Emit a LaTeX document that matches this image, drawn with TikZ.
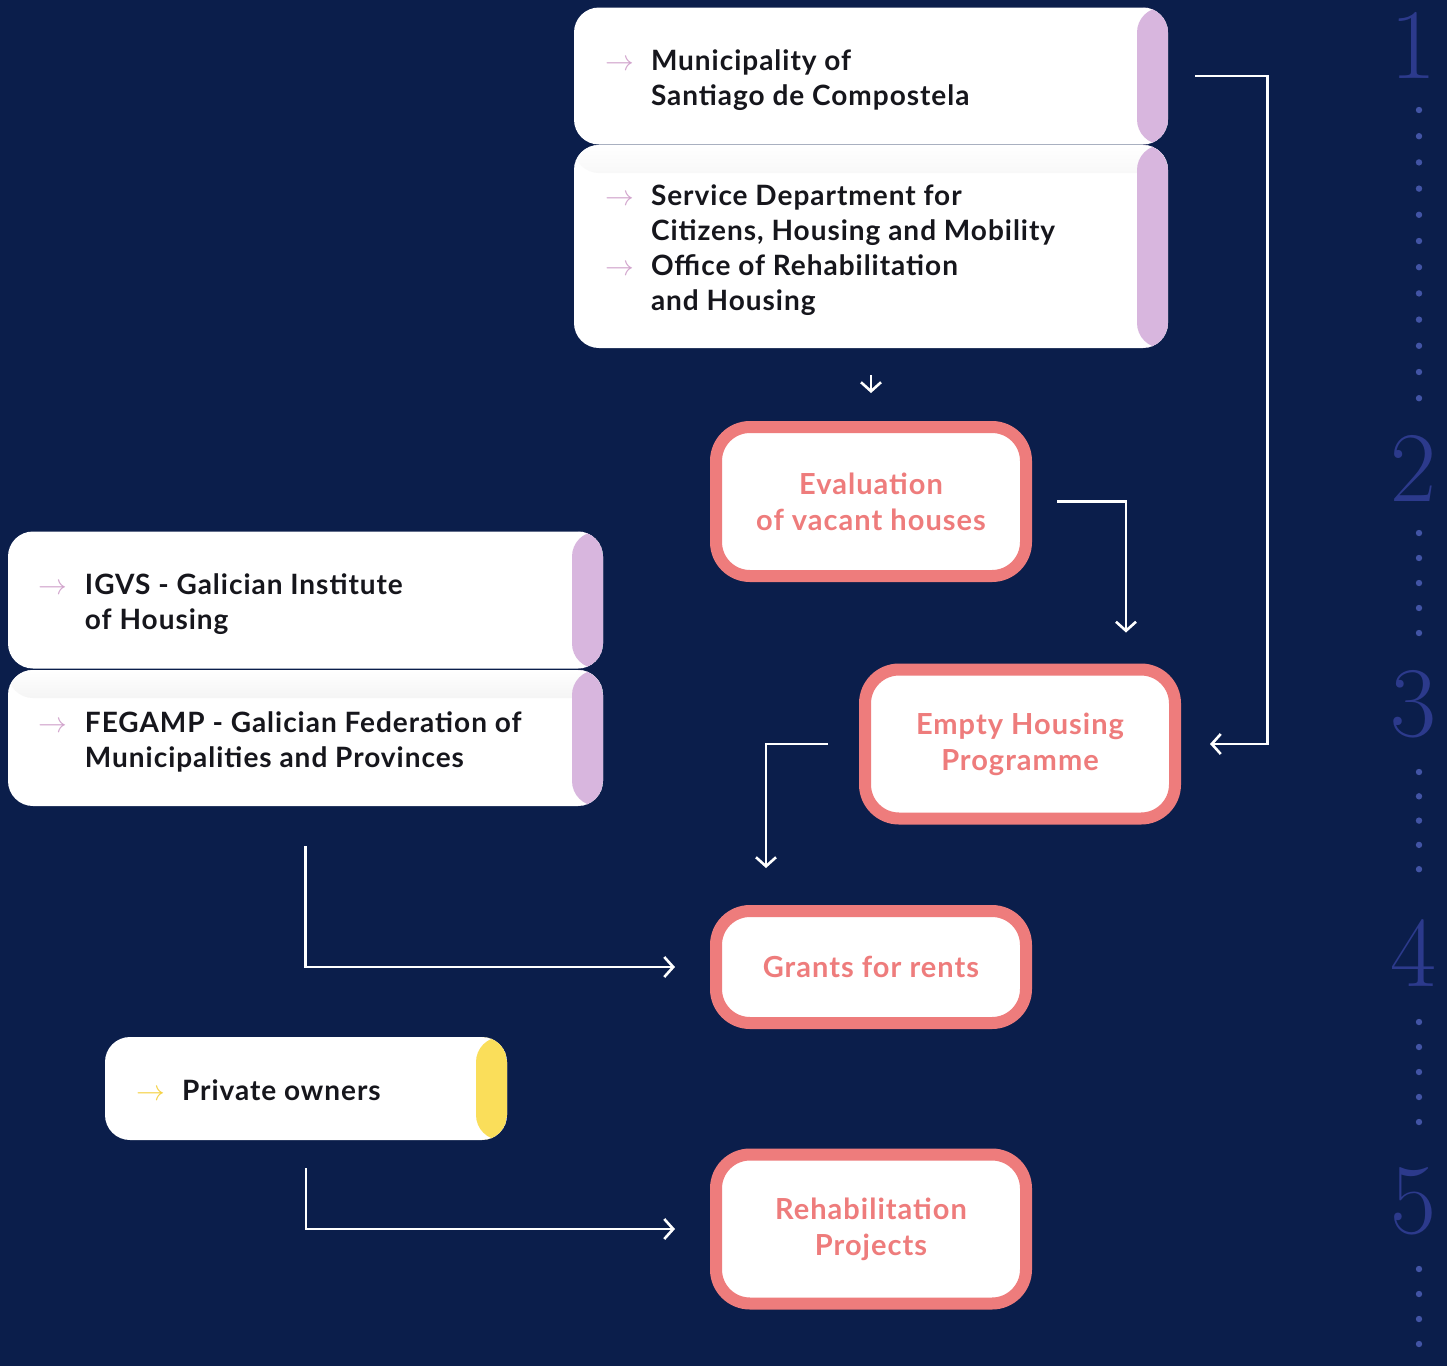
\documentclass[tikz,border=0pt]{standalone}
\usepackage{fontspec}
\newfontfamily\cardfont{Lato}[LetterSpace=3.5]
\usetikzlibrary{arrows.meta,calc}
\definecolor{bg}{RGB}{11,30,75}
\definecolor{lilac}{RGB}{216,182,222}
\definecolor{lilacarrow}{RGB}{210,165,205}
\definecolor{sunny}{RGB}{250,222,90}
\definecolor{sunnyarrow}{RGB}{245,210,70}
\definecolor{salmon}{RGB}{238,124,124}
\definecolor{numblue}{RGB}{44,58,140}
\definecolor{dotblue}{RGB}{66,84,165}
\definecolor{ink}{RGB}{22,22,28}
\newcommand\arr[1]{\makebox[23pt][l]{\color{#1}\(\rightarrow\)}}
\newcommand\cardtext[2]{\makebox[#1][l]{\raisebox{0pt}[\dimexpr\height+4.5pt\relax][\depth]{\begin{tabular}{@{}l@{}l@{}}#2\end{tabular}}}}
\tikzset{
  x=0.5pt, y=-0.5pt,
  card/.style={fill=white, rounded corners=12.5pt, inner xsep=15.5pt, inner ysep=0pt,
    anchor=center, text=ink,
    font=\cardfont\fontsize{14}{17.5}\selectfont\bfseries},
  stripe/.style={path picture={
    \fill[#1] ([xshift=-15.5pt]path picture bounding box.north east) rectangle (path picture bounding box.south east);}},
  lowstripe/.style={path picture={
    \shade[top color=white, bottom color=black!20] (path picture bounding box.north west) rectangle ([yshift=-14pt]path picture bounding box.north east);
    \fill[#1] ([xshift=-15.5pt]path picture bounding box.north east) rectangle (path picture bounding box.south east);}},
  stage/.style={draw=salmon, line width=6pt, fill=white, rounded corners=17pt,
    minimum width=155pt, minimum height=74.5pt, inner sep=0pt, align=center,
    text=salmon, font=\cardfont\fontsize{14.5}{18}\selectfont\bfseries},
  conn/.style={draw=white, line width=1.3pt,
    -{Straight Barb[length=4.5pt,width=10pt,line width=1.3pt]}},
  num/.style={text=numblue, font=\fontsize{50}{50}\selectfont, inner sep=0pt},
  dotmark/.style={fill=dotblue, draw=none, circle, inner sep=0pt, minimum size=3.2pt},
}
\begin{document}
\begin{tikzpicture}
\fill[bg] (0,0) rectangle (1447,1366);
\useasboundingbox (0,0) rectangle (1447,1366);

% step numbers and dots
\node[num] (n1) at (1413,45) {1};
\node[num] (n2) at (1413,468) {2};
\node[num] (n3) at (1413,704) {3};
\node[num] (n4) at (1413,953) {4};
\node[num] (n5) at (1413,1201) {5};
\foreach \i in {0,...,11} \node[dotmark] (da\i) at (1419,{110+26.2*\i}) {};
\foreach \i in {0,...,4} \node[dotmark] (db\i) at (1419,{533+25*\i}) {};
\foreach \i in {0,...,4} \node[dotmark] (dc\i) at (1419,{772+24.3*\i}) {};
\foreach \i in {0,...,4} \node[dotmark] (dd\i) at (1419,{1022+25*\i}) {};
\foreach \i in {0,...,4} \node[dotmark] (de\i) at (1419,{1269+25*\i}) {};

% actor cards
\node[card, stripe=lilac, minimum width=297pt, minimum height=68.5pt] (m1) at (871,76)
  {\cardtext{266pt}{\arr{lilacarrow} & Municipality of\\ & Santiago de Compostela}};
\node[card, lowstripe=lilac, minimum width=297pt, minimum height=101.5pt] (m2) at (871,246.5)
  {\cardtext{266pt}{\arr{lilacarrow} & Service Department for\\ & Citizens, Housing and Mobility\\ \arr{lilacarrow} & Office of Rehabilitation\\ & and Housing}};
\node[card, stripe=lilac, minimum width=297.5pt, minimum height=68.5pt] (igvs) at (305.5,600)
  {\cardtext{266.5pt}{\arr{lilacarrow} & IGVS - Galician Institute\\ & of Housing}};
\node[card, lowstripe=lilac, minimum width=297.5pt, minimum height=68pt] (feg) at (305.5,738)
  {\cardtext{266.5pt}{\arr{lilacarrow} & FEGAMP - Galician Federation of\\ & Municipalities and Provinces}};
\node[card, stripe=sunny, minimum width=201pt, minimum height=51.5pt] (priv) at (306,1088.5)
  {\cardtext{170pt}{\arr{sunnyarrow} & Private owners}};

% stages
\node[stage] (eval) at (871,501.5) {Evaluation\\of vacant houses};
\node[stage] (emp) at (1020,744) {Empty Housing\\Programme};
\node[stage, minimum height=56pt] (grants) at (871,967) {Grants for rents};
\node[stage] (rehab) at (871,1229) {Rehabilitation\\Projects};

% connectors
\draw[conn] ([xshift=13.5pt]m1.east) -- ++(36pt,0) |- ([xshift=14.5pt]emp.east);
\draw[conn] ([yshift=-13.5pt]m2.south) -- ([yshift=14pt]eval.north);
\draw[conn] ([xshift=12.5pt]eval.east) -| ([shift={(53pt,15.5pt)}]emp.north);
\draw[conn] ([xshift=-15.5pt]emp.west) -| ([shift={(-52.5pt,18.5pt)}]grants.north);
\draw[conn] ([yshift=-20pt]feg.south) |- ([xshift=-17.5pt]grants.west);
\draw[conn] ([yshift=-14pt]priv.south) |- ([xshift=-17.5pt]rehab.west);
\end{tikzpicture}
\end{document}
